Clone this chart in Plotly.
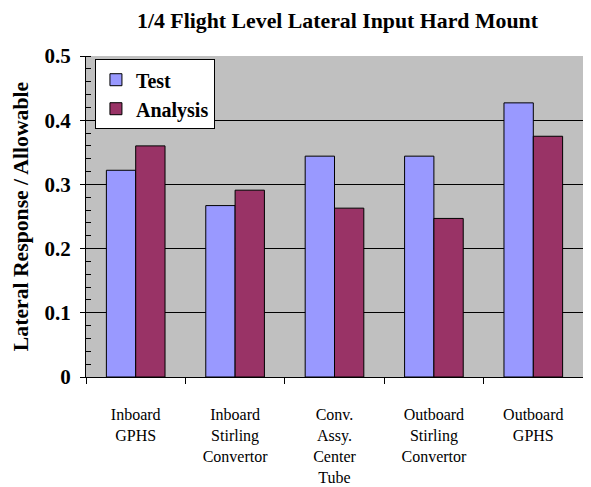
import plotly.graph_objects as go

# categorias del eje x (varias lineas)
categorias = [
    "Inboard<br>GPHS",
    "Inboard<br>Stirling<br>Convertor",
    "Conv.<br>Assy.<br>Center<br>Tube",
    "Outboard<br>Stirling<br>Convertor",
    "Outboard<br>GPHS",
]
valores_test = [0.322, 0.267, 0.344, 0.344, 0.427]
valores_analisis = [0.360, 0.291, 0.263, 0.247, 0.375]
ticks_y = [0, 0.1, 0.2, 0.3, 0.4, 0.5]
etiquetas_y = ["0", "0.1", "0.2", "0.3", "0.4", "0.5"]

FUENTE = "Liberation Serif, Times New Roman, serif"

fig = go.Figure()
fig.add_trace(go.Bar(
    x=categorias, y=valores_test, name="<b>Test</b>",
    marker=dict(color="#9999FF", line=dict(color="black", width=1)),
))
fig.add_trace(go.Bar(
    x=categorias, y=valores_analisis, name="<b>Analysis</b>",
    marker=dict(color="#993366", line=dict(color="black", width=1)),
))

# la pagina tiene 8px de margen en el body -> figura un poco mas chica
fig.update_layout(
    width=575, height=479,
    margin=dict(l=78, r=0, t=48, b=110),
    paper_bgcolor="white",
    plot_bgcolor="#C0C0C0",
    barmode="group",
    bargap=0.41,
    bargroupgap=0,
    title=dict(
        text="<b>1/4 Flight Level Lateral Input Hard Mount</b>",
        xref="paper", x=0.506, xanchor="center",
        yref="container", y=0.975, yanchor="middle",
        font=dict(family=FUENTE, size=21.8, color="black"),
    ),
    legend=dict(
        x=0.018, y=0.99, xanchor="left", yanchor="top",
        bgcolor="white", bordercolor="black", borderwidth=1,
        font=dict(family=FUENTE, size=20, color="black"),
        itemwidth=30, tracegroupgap=0,
    ),
    showlegend=True,
)

fig.update_xaxes(
    automargin=False,
    showgrid=False,
    showline=True, linecolor="black", linewidth=1,
    ticks="outside", ticklen=6, tickcolor="black",
    tickson="boundaries",
    ticklabelstandoff=23,
    tickfont=dict(family=FUENTE, size=16, color="black"),
)
fig.update_yaxes(
    automargin=False,
    range=[0, 0.5],
    tickvals=ticks_y, ticktext=["<b>%s</b>" % t for t in etiquetas_y],
    showgrid=True, gridcolor="black", gridwidth=1,
    showline=True, linecolor="black", linewidth=1,
    ticks="outside", ticklen=5, tickcolor="black",
    ticklabelstandoff=5,
    minor=dict(dtick=0.02, ticks="inside", ticklen=5, tickcolor="black", showgrid=False),
    tickfont=dict(family=FUENTE, size=21, color="black"),
    title=dict(text="<b>Lateral Response / Allowable</b>",
               font=dict(family=FUENTE, size=21.7, color="black"), standoff=9),
    zeroline=False,
)

fig.write_html("out.html")
